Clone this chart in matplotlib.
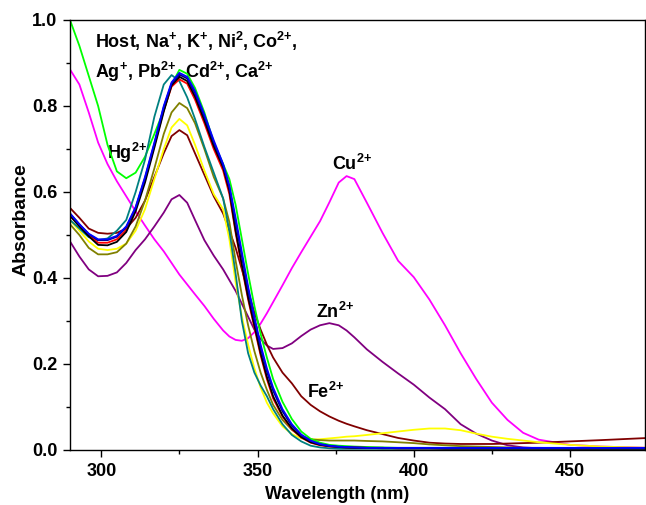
import matplotlib
matplotlib.use('Agg')
import matplotlib.pyplot as plt
from matplotlib.ticker import MultipleLocator

plt.rcParams['font.family'] = 'Liberation Sans'
plt.rcParams['font.weight'] = 'bold'
plt.rcParams['mathtext.fontset'] = 'custom'
plt.rcParams['mathtext.rm'] = 'Liberation Sans:bold'
plt.rcParams['mathtext.bf'] = 'Liberation Sans:bold'
plt.rcParams['mathtext.it'] = 'Liberation Sans:bold'
plt.rcParams['mathtext.default'] = 'bf'

# shared wavelength grid (nm)
wl = [290, 293, 296, 299, 302, 305, 308, 311, 314, 317,
      320, 322.5, 325, 327.5, 330, 333, 336, 339, 341, 343,
      345, 347, 349, 351, 353, 355, 358, 361, 364, 367,
      370, 373, 376, 378.5, 381, 385, 390, 395, 400, 405,
      410, 415, 420, 425, 430, 435, 440, 450, 460, 475]

cu = [0.885, 0.85, 0.785, 0.715, 0.665, 0.625, 0.59, 0.555, 0.522, 0.49,
      0.462, 0.435, 0.408, 0.385, 0.362, 0.335, 0.305, 0.278, 0.264, 0.256,
      0.254, 0.26, 0.274, 0.294, 0.318, 0.344, 0.383, 0.423, 0.46, 0.496,
      0.532, 0.576, 0.622, 0.637, 0.63, 0.575, 0.505, 0.44, 0.402, 0.35,
      0.29, 0.225, 0.165, 0.11, 0.07, 0.04, 0.024, 0.012, 0.008, 0.005]

zn = [0.485, 0.45, 0.42, 0.404, 0.405, 0.413, 0.435, 0.465, 0.49, 0.52,
      0.552, 0.583, 0.593, 0.575, 0.535, 0.488, 0.452, 0.42, 0.395, 0.37,
      0.34, 0.31, 0.28, 0.258, 0.243, 0.235, 0.237, 0.248, 0.265, 0.28,
      0.29, 0.295, 0.29, 0.278, 0.262, 0.234, 0.205, 0.178, 0.152, 0.122,
      0.095, 0.06, 0.038, 0.022, 0.011, 0.006, 0.004, 0.003, 0.003, 0.003]

fe = [0.563, 0.54, 0.515, 0.505, 0.503, 0.505, 0.515, 0.54, 0.58, 0.635,
      0.69, 0.73, 0.744, 0.732, 0.69, 0.64, 0.59, 0.55, 0.51, 0.47,
      0.42, 0.37, 0.32, 0.28, 0.245, 0.215, 0.18, 0.155, 0.125, 0.105,
      0.09, 0.078, 0.068, 0.061, 0.055, 0.046, 0.037, 0.028, 0.022, 0.017,
      0.015, 0.014, 0.014, 0.014, 0.015, 0.016, 0.017, 0.02, 0.023, 0.028]

yellow = [0.535, 0.51, 0.485, 0.468, 0.465, 0.468, 0.48, 0.51, 0.56, 0.63,
          0.70, 0.75, 0.77, 0.755, 0.71, 0.65, 0.595, 0.56, 0.49, 0.39,
          0.31, 0.245, 0.19, 0.145, 0.11, 0.085, 0.055, 0.037, 0.027, 0.024,
          0.025, 0.027, 0.029, 0.031, 0.032, 0.035, 0.039, 0.043, 0.047, 0.05,
          0.05, 0.046, 0.038, 0.031, 0.026, 0.022, 0.018, 0.012, 0.008, 0.005]

olive = [0.525, 0.50, 0.47, 0.455, 0.455, 0.46, 0.48, 0.52, 0.58, 0.655,
         0.735, 0.785, 0.807, 0.795, 0.76, 0.70, 0.635, 0.585, 0.53, 0.44,
         0.36, 0.29, 0.23, 0.18, 0.14, 0.105, 0.07, 0.047, 0.032, 0.025,
         0.023, 0.022, 0.022, 0.022, 0.022, 0.021, 0.02, 0.018, 0.016, 0.013,
         0.011, 0.009, 0.008, 0.007, 0.006, 0.005, 0.005, 0.004, 0.004, 0.004]

hg = [1.0, 0.94, 0.87, 0.80, 0.71, 0.648, 0.632, 0.645, 0.682, 0.735,
      0.79, 0.85, 0.884, 0.875, 0.842, 0.785, 0.715, 0.665, 0.63, 0.57,
      0.49, 0.41, 0.335, 0.27, 0.215, 0.165, 0.112, 0.072, 0.043, 0.026,
      0.017, 0.012, 0.01, 0.009, 0.008, 0.007, 0.006, 0.005, 0.005, 0.005,
      0.005, 0.005, 0.004, 0.004, 0.004, 0.004, 0.004, 0.004, 0.004, 0.004]

teal = [0.535, 0.515, 0.495, 0.488, 0.492, 0.51, 0.535, 0.60, 0.675, 0.775,
        0.85, 0.872, 0.858, 0.82, 0.77, 0.705, 0.645, 0.585, 0.51, 0.41,
        0.30, 0.225, 0.18, 0.15, 0.125, 0.095, 0.06, 0.035, 0.02, 0.01,
        0.006, 0.004, 0.003, 0.003, 0.003, 0.003, 0.003, 0.003, 0.003, 0.003,
        0.003, 0.003, 0.003, 0.003, 0.003, 0.003, 0.003, 0.003, 0.003, 0.003]

red = [0.545, 0.522, 0.50, 0.482, 0.482, 0.49, 0.512, 0.56, 0.628, 0.708,
       0.79, 0.845, 0.862, 0.852, 0.815, 0.76, 0.70, 0.65, 0.595, 0.505,
       0.425, 0.35, 0.285, 0.22, 0.165, 0.12, 0.078, 0.048, 0.029, 0.017,
       0.011, 0.008, 0.007, 0.006, 0.006, 0.005, 0.005, 0.004, 0.004, 0.004,
       0.004, 0.004, 0.004, 0.004, 0.004, 0.004, 0.004, 0.004, 0.004, 0.004]

host = [0.545, 0.52, 0.497, 0.477, 0.476, 0.484, 0.507, 0.555, 0.622, 0.703,
        0.787, 0.848, 0.868, 0.858, 0.822, 0.767, 0.707, 0.657, 0.603, 0.51,
        0.43, 0.355, 0.29, 0.225, 0.17, 0.125, 0.08, 0.05, 0.03, 0.018,
        0.012, 0.009, 0.007, 0.006, 0.005, 0.005, 0.004, 0.004, 0.004, 0.004,
        0.003, 0.003, 0.003, 0.003, 0.003, 0.003, 0.003, 0.003, 0.003, 0.003]

navy = [0.55, 0.525, 0.502, 0.488, 0.488, 0.496, 0.518, 0.563, 0.632, 0.712,
        0.797, 0.852, 0.873, 0.864, 0.83, 0.775, 0.715, 0.662, 0.61, 0.53,
        0.45, 0.372, 0.302, 0.238, 0.183, 0.138, 0.09, 0.056, 0.034, 0.021,
        0.013, 0.009, 0.007, 0.006, 0.006, 0.005, 0.005, 0.004, 0.004, 0.004,
        0.004, 0.004, 0.004, 0.004, 0.004, 0.004, 0.004, 0.004, 0.004, 0.004]

blue = [0.55, 0.525, 0.503, 0.49, 0.49, 0.498, 0.52, 0.565, 0.635, 0.715,
        0.80, 0.855, 0.877, 0.868, 0.835, 0.78, 0.72, 0.665, 0.615, 0.54,
        0.46, 0.38, 0.31, 0.245, 0.19, 0.145, 0.095, 0.06, 0.036, 0.022,
        0.014, 0.01, 0.008, 0.007, 0.006, 0.005, 0.005, 0.005, 0.005, 0.005,
        0.005, 0.005, 0.005, 0.005, 0.005, 0.005, 0.005, 0.005, 0.005, 0.005]

series = [
    (cu, '#ff00ff'), (zn, '#800080'), (fe, '#800000'), (yellow, '#ffff00'),
    (olive, '#808000'), (hg, '#00ff00'), (teal, '#008080'), (red, '#ff0000'),
    (host, '#000000'), (navy, '#000080'), (blue, '#0000ff'),
]

fig = plt.figure(figsize=(6.46, 5.05), dpi=100)
ax = fig.add_axes([70 / 646, 55 / 505, 575 / 646, 430 / 505])

for ys, c in series:
    ax.plot(wl, ys, color=c, linewidth=1.3, zorder=2)

ax.set_xlim(290, 474)
ax.set_ylim(0, 1.0)
ax.xaxis.set_major_locator(MultipleLocator(50))
ax.xaxis.set_minor_locator(MultipleLocator(25))
ax.yaxis.set_major_locator(MultipleLocator(0.2))
ax.yaxis.set_minor_locator(MultipleLocator(0.1))
ax.tick_params(which='both', direction='out', top=False, right=False, width=1)
ax.tick_params(which='major', length=5, pad=4, labelsize=13)
ax.tick_params(which='minor', length=3)
for s in ax.spines.values():
    s.set_linewidth(1)

ax.set_xlabel('Wavelength (nm)', fontsize=13, fontweight='bold', labelpad=5)
ax.set_ylabel('Absorbance', fontsize=14, fontweight='bold', labelpad=2)
ax.xaxis.label.set_x(0.464)
ax.yaxis.label.set_y(0.535)

kw = dict(fontsize=13, fontweight='bold', zorder=1)
ax.text(298, 0.95, r'Host, Na$^{+}$, K$^{+}$, Ni$^{2}$, Co$^{2{+}}$,', va='center', **kw)
ax.text(298, 0.88, r'Ag$^{+}$, Pb$^{2{+}}$, Cd$^{2{+}}$, Ca$^{2{+}}$', va='center', **kw)
ax.text(301.7, 0.69, r'Hg$^{2{+}}$', va='center', **kw)
ax.text(373.7, 0.665, r'Cu$^{2{+}}$', va='center', **kw)
ax.text(368.6, 0.32, r'Zn$^{2{+}}$', va='center', **kw)
ax.text(365.9, 0.135, r'Fe$^{2{+}}$', va='center', **kw)

fig.savefig('out.png', dpi=100)
